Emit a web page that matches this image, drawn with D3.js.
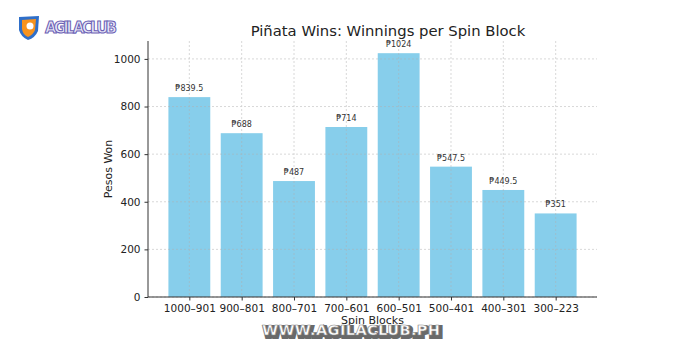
<!DOCTYPE html>
<html lang="en">
<head>
  <meta charset="UTF-8" />
  <script src="https://d3js.org/d3.v7.min.js"></script>
  <title>Pinata Wins</title>
  <style>
    body { margin: 0; background: #fff; }
    text { font-family: "DejaVu Sans", sans-serif; }
  </style>
</head>
<body>
<script type="text/javascript">
	var blocks = ["1000–901", "900–801", "800–701", "700–601", "600–501", "500–401", "400–301", "300–223"];
	var winnings = [839.5, 688, 487, 714, 1024, 547.5, 449.5, 351];
	var yTicks = [0, 200, 400, 600, 800, 1000];

	var width = 700; var height = 350;
	var pLeft = 148, pRight = 597, pTop = 41, pBottom = 297;
	var svg = d3.select("body").append("svg").attr("width", width).attr("height", height);

	var x = d3.scaleLinear().domain([-0.79, blocks.length - 1 + 0.79]).range([pLeft, pRight]);
	var y = d3.scaleLinear().domain([0, d3.max(winnings) * 1.05]).range([pBottom, pTop]);
	var bw = x(0.4) - x(-0.4);

	// bars
	svg.selectAll("rect.bar").data(winnings).enter().append("rect")
		.attr("x", function(d, i){ return x(i) - bw / 2; })
		.attr("y", function(d){ return y(d); })
		.attr("width", bw)
		.attr("height", function(d){ return pBottom - y(d); })
		.attr("fill", "#87ceeb");

	// grid
	var grid = svg.append("g").attr("stroke", "#b0b0b0").attr("stroke-width", 0.8)
		.attr("stroke-dasharray", "2,2").attr("opacity", 0.6);
	grid.selectAll("line.h").data(yTicks).enter().append("line")
		.attr("x1", pLeft).attr("x2", pRight)
		.attr("y1", function(d){ return y(d); }).attr("y2", function(d){ return y(d); });
	grid.selectAll("line.v").data(blocks).enter().append("line")
		.attr("y1", pTop).attr("y2", pBottom)
		.attr("x1", function(d, i){ return x(i); }).attr("x2", function(d, i){ return x(i); });

	// value labels
	svg.selectAll("text.val").data(winnings).enter().append("text")
		.attr("x", function(d, i){ return x(i); })
		.attr("y", function(d){ return y(d) - 6; })
		.attr("text-anchor", "middle")
		.attr("font-size", 8).attr("fill", "#333")
		.text(function(d){ return "₱" + d; });

	// axes
	var yAxis = d3.axisLeft(y).tickValues(yTicks).tickFormat(d3.format("d"))
		.tickSize(3.5).tickPadding(4).tickSizeOuter(0);
	var gy = svg.append("g").attr("transform", "translate(" + pLeft + ",0)").call(yAxis);
	gy.selectAll("text").attr("font-size", 10.5).attr("fill", "#222").attr("font-family", "DejaVu Sans");
	gy.selectAll(".tick line").attr("stroke", "#333");
	gy.select(".domain").attr("stroke", "#333").attr("d", "M0," + pTop + "V" + pBottom);

	var xAxis = d3.axisBottom(x).tickValues(d3.range(blocks.length))
		.tickFormat(function(i){ return blocks[i]; }).tickSize(3.5).tickPadding(4).tickSizeOuter(0);
	var gx = svg.append("g").attr("transform", "translate(0," + pBottom + ")").call(xAxis);
	gx.selectAll("text").attr("font-size", 10.5).attr("fill", "#222").attr("font-family", "DejaVu Sans");
	gx.selectAll(".tick line").attr("stroke", "#333");
	gx.select(".domain").attr("stroke", "#333").attr("d", "M" + pLeft + ",0H" + pRight);

	// titles
	svg.append("text").attr("x", 388).attr("y", 36).attr("text-anchor", "middle")
		.attr("font-size", 14.8).attr("fill", "#222").text("Piñata Wins: Winnings per Spin Block");
	svg.append("text").attr("transform", "translate(112," + ((pTop + pBottom) / 2) + ") rotate(-90)")
		.attr("text-anchor", "middle").attr("font-size", 11).attr("fill", "#222").text("Pesos Won");
	svg.append("text").attr("x", (pLeft + pRight) / 2).attr("y", 324).attr("text-anchor", "middle")
		.attr("font-size", 11).attr("fill", "#222").text("Spin Blocks");

	// watermark
	var wm = svg.append("g");
	wm.append("text").attr("x", 353).attr("y", 337).attr("text-anchor", "middle")
		.attr("font-size", 14.5).attr("font-weight", 900).attr("font-family", "DejaVu Sans")
		.attr("fill", "#333").attr("stroke", "#444").attr("stroke-width", 4).attr("opacity", 0.8)
		.attr("textLength", 178).text("WWW.AGILACLUB.PH");
	wm.append("text").attr("x", 351).attr("y", 335).attr("text-anchor", "middle")
		.attr("font-size", 14.5).attr("font-weight", 900).attr("font-family", "DejaVu Sans")
		.attr("fill", "#fff").attr("stroke", "#888").attr("stroke-width", 0.6)
		.attr("textLength", 178).text("WWW.AGILACLUB.PH");

	// logo
	var logo = svg.append("g").attr("transform", "translate(29,27)");
	logo.append("path").attr("d", "M-10,-10 L10,-11 L9,4 Q6,11 -1,13 Q-8,10 -10,3 Z")
		.attr("fill", "#2f6fc9");
	logo.append("path").attr("d", "M-7,-7 L7,-8 L6,3 Q4,8 -1,10 Q-6,8 -7,2 Z").attr("fill", "#f7931e");
	logo.append("circle").attr("cx", 1).attr("cy", -1).attr("r", 3.5).attr("fill", "#fff");
	logo.append("text").attr("x", 16).attr("y", 6).attr("font-size", 15).attr("font-weight", 900)
		.attr("font-family", "DejaVu Sans").attr("fill", "#e8e6f7").attr("stroke", "#6a5fb5")
		.attr("stroke-width", 1).attr("textLength", 72).text("AGILACLUB");
</script>
</body>
</html>
